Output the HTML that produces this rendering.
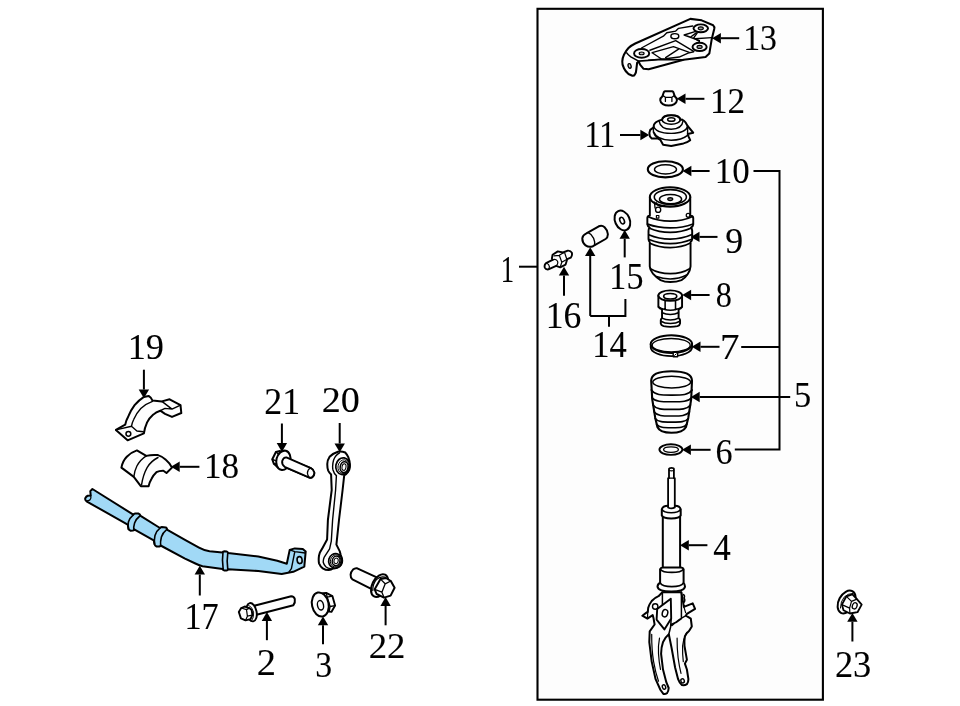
<!DOCTYPE html>
<html><head><meta charset="utf-8"><title>Suspension diagram</title>
<style>
html,body{margin:0;padding:0;background:#fff;}
body{width:960px;height:706px;overflow:hidden;font-family:"Liberation Serif",serif;}
svg{display:block;}
svg text{font-family:"Liberation Serif",serif;fill:#000;stroke:#000;stroke-width:0.25px;}
svg{filter:blur(0.45px);}
</style></head><body>
<svg width="960" height="706" viewBox="0 0 960 706">
<rect x="0" y="0" width="960" height="706" fill="#fff"/>
<rect x="537.5" y="8.8" width="285.4" height="690.9" fill="#fdfdfd" stroke="#000" stroke-width="2.1"/>
<g id="parts" stroke="#000" stroke-width="1.6" fill="none" stroke-linejoin="round" stroke-linecap="round">
<!-- PART 13 : upper bracket -->
<g id="p13" transform="matrix(0.9823 0 0 0.9833 11.98 0.98)">
<path d="M690.6 18.2L702.1 19.7L713.8 24.7Q715.4 26 714.9 28.5L712.4 38.6L709.9 53.5L706.1 57L683.7 59.8L648.2 69.4L643 69L639.6 65L637.9 61.6L636.4 62.9L635.6 69.6Q635.4 73 634.3 74.4Q633.2 76.4 631.6 76L627.6 74.2Q624.3 71.3 623 68.4Q621 64.5 621.3 61.4Q621.5 57.8 623 54.7Q625 50.6 627.6 47.8Q630.5 45 634.5 43.2Z" fill="#fdfdfd" stroke-width="2.1"/>
<path d="M625.8 52.8Q627.4 55 630 56.8L637.9 61.2L660.8 59.5L683.7 59.8"/>
<path d="M640.8 47.8L663.1 35.8L666.6 32.3L675.7 30.6L678.6 27.8L693 25.4M697.5 32.6L694 37.5L699.8 41M694 51.6L688.3 53L679.2 57L665.4 58.7L648 60.2" stroke-width="1.4"/>
<path d="M649.4 50.1L675.7 40.4L694 51.2M651.7 52.6L673.4 46.4L689.5 52.2M651.7 52.6L660.8 58.7M665.4 57.6L678.6 49" stroke-width="1.4"/>
<path d="M684.3 34.6L695.2 31.2M684.3 34.6L690.6 36.9L696.6 32.4M684.3 34.6L699.8 40.4M695.2 38.4L712.4 37.3" stroke-width="1.4"/>
<ellipse cx="701.2" cy="27.8" rx="7.4" ry="4" fill="#fdfdfd" stroke-width="2"/>
<ellipse cx="701.2" cy="27.8" rx="2.6" ry="1.5" fill="#999" stroke-width="1.2"/>
<ellipse cx="700" cy="46.7" rx="7.2" ry="4.2" fill="#fdfdfd" stroke-width="2"/>
<ellipse cx="700" cy="46.7" rx="2.6" ry="1.5" fill="#999" stroke-width="1.2"/>
<ellipse cx="641" cy="53.3" rx="7.7" ry="4.5" fill="#fdfdfd" stroke-width="2"/>
<ellipse cx="641" cy="53.3" rx="2.5" ry="1.4" fill="#bbb" stroke-width="1.2"/>
<ellipse cx="674.8" cy="35.8" rx="4" ry="2.6" stroke-width="1.5"/>
<ellipse cx="628.75" cy="66.1" rx="1.5" ry="2.4" transform="rotate(-15 628.75 66.1)" fill="#ccc" stroke-width="1.4"/>
</g>
<!-- PART 12 : nut -->
<g id="p12">
<path d="M665 91.3H672.2Q673 91.4 673.4 92.2L674.8 96.4A8.35 5.5 0 1 1 662.4 96.4L663.8 92.2Q664.2 91.4 665 91.3Z" fill="#fdfdfd" stroke-width="2"/>
<path d="M662.6 95.4L665.4 97.3H671.9L674.6 95.4M665.4 97.3V101.4M671.9 97.8V101.4" stroke-width="1.3"/>
</g>
<!-- PART 11 : mount -->
<g id="p11">
<path d="M662.1 119.7Q662.6 115.2 671.2 115.2Q679.8 115.2 680.3 119.7L682.2 119.6Q684.4 120.6 685.6 122.6L687.6 126L693.2 132.7L687.8 133.9L688.6 136.6L690.2 140.2Q687.4 142.4 683.5 143.4L671.2 146L663.1 144.8L660.3 139.8L658.2 138.6L651.8 138.6L649.9 136.4Q648.6 133.2 650.2 129.9L653.4 127.6Q653.4 124.4 655.6 122.6Q657.2 121.2 659 120.6Z" fill="#fdfdfd" stroke-width="2"/>
<ellipse cx="671.2" cy="119.7" rx="9.1" ry="4.5" stroke-width="1.6"/>
<ellipse cx="671.3" cy="119.5" rx="3.7" ry="1.8" stroke-width="1.5"/>
<path d="M659 120.8Q660.4 129 671.2 129.3Q682 129 683 121.2M653.6 125.6Q655 133.2 671.2 133.4Q686 133.2 687.6 126M653.8 132Q657 140 671.2 140.2Q682 140 687.2 135.6M653.4 127.6V132.4Q654.6 136.6 658.2 138.6M687.6 126V135.6" stroke-width="1.4"/>
</g>
<!-- PART 10 : ring -->
<g id="p10">
<ellipse cx="665.35" cy="169.3" rx="17.55" ry="8.1" fill="#fdfdfd" stroke-width="2.1"/>
<ellipse cx="665.5" cy="169.4" rx="11" ry="4.6" stroke-width="1.4"/>
</g>
<!-- PART 9 : air spring -->
<g id="p9" transform="matrix(0.9620 0 0 0.9857 25.71 2.96)">
<path d="M648.8 196.8V215.6Q646.4 216 646.2 218V224.6Q646.4 226.4 648.6 227.8Q647.4 229 647.4 231V239.6Q647.6 241.4 648.7 242.6V267.2Q649 271 652 274.6Q655.6 278.6 659.9 281.2Q664 283.2 670 283.2Q676.6 283.2 681.7 281.2Q685.6 279 688.2 275Q690.8 271 691.1 267.2V242.6Q692.6 241.4 692.8 239.6V231Q692.6 229 691.6 227.8Q693.8 226.4 693.9 224.6V218Q693.6 216 690.8 215.6V196.8Z" fill="#fdfdfd" stroke-width="2.0"/>
<ellipse cx="669.8" cy="196.8" rx="21" ry="9.8" fill="#fdfdfd" stroke-width="2.1"/>
<ellipse cx="670.1" cy="196.9" rx="16.7" ry="7.5" stroke-width="1.6"/>
<ellipse cx="670.3" cy="199.1" rx="11.5" ry="4.7" stroke-width="1.5"/>
<ellipse cx="670" cy="199" rx="2.6" ry="1.4" fill="#999" stroke-width="1.3"/>
<path d="M653.6 202.2L654.2 208M655.4 202.6Q656 205.6 661 206.6" stroke-width="1.4"/>
<circle cx="657.4" cy="209.8" r="2.7" stroke-width="1.4"/>
<rect x="655.6" y="215.6" width="2.6" height="2.6" stroke-width="1.2"/>
<circle cx="688.6" cy="215.4" r="2" stroke-width="1.3"/>
<path d="M647 217Q657 221.4 670 221.4Q683 221.4 693.2 216.6M646.4 224.4Q657 228.2 670 228.2Q683 228.2 693.7 224.2M648.4 228.6Q658 232.8 670 232.8Q682 232.8 692 228.4M647.6 235.2Q658 239.6 670 239.6Q682 239.6 692.6 235M648 240Q658 244.2 670 244.2Q682 244.2 692.4 239.8M648.9 243.8Q658 248.2 670 248.2Q682 248.2 691 243.6" stroke-width="1.7"/>
<path d="M649.4 269.6Q658 274.6 670 274.6Q682 274.6 690.6 269.4M655.6 277.6Q662 280 670 280Q679 280 687 276" stroke-width="1.6"/>
</g>
<!-- PART 8 : fitting -->
<g id="p8" transform="matrix(0.9630 0 0 0.9650 24.15 10.90)">
<path d="M658.6 295V306.8Q660 308.6 662.4 309.2V318.3Q661.2 319 661.1 320.4V324Q661.4 325.8 664 326.6Q667.4 327.4 671 327.4Q675 327.4 678.4 326.6Q681 325.8 681.1 324V320.4Q681 319 679.6 318.3V309.2Q682 308.6 683.2 306.8V295Z" fill="#fdfdfd" stroke-width="2.0"/>
<ellipse cx="670.9" cy="295" rx="12.3" ry="5.4" fill="#fdfdfd" stroke-width="2.0"/>
<ellipse cx="670.9" cy="295.7" rx="6.8" ry="2.9" stroke-width="1.7"/>
<path d="M665.6 300.4V309.6M676.4 300.4V309.6M658.8 306.8Q664 310.2 671 310.2Q678 310.2 683 306.8M662.6 312.8Q666 314.6 671 314.6Q676 314.6 679.4 312.8M662.4 318.4Q666 320.4 671 320.4Q676 320.4 679.6 318.4M661.2 321.6Q665 324 671 324Q677 324 681 321.6" stroke-width="1.6"/>
</g>
<!-- PART 7 : clamp -->
<g id="p7">
<path d="M650.7 344.1V347.3A20.7 8.8 0 0 0 692.1 347.3V344.1" fill="none" stroke-width="1.8"/>
<ellipse cx="671.4" cy="344.1" rx="20.7" ry="8.8" fill="#fdfdfd" stroke-width="2"/>
<ellipse cx="671.2" cy="345.2" rx="19" ry="6.7" stroke-width="1.3"/>
<rect x="673.2" y="352.4" width="4.4" height="4.4" fill="#fdfdfd" stroke-width="1.4"/>
<path d="M674.6 355.4L676.2 353.8" stroke-width="1"/>
</g>
<!-- PART 5 : boot -->
<g id="p5">
<path d="M651.2 380.6Q651.4 371.2 671.6 371.2Q691.8 371.2 692 380.6L691.2 399L688.3 417.7L686 427Q683 432.8 671.4 432.8Q660 432.8 657.4 427L655.2 417.7L652.2 399Z" fill="#fdfdfd" stroke-width="2.1"/>
<ellipse cx="671.7" cy="382.1" rx="18.9" ry="5.9" stroke-width="1.5"/>
<path d="M651.3 390C655.0 395.2 661.5 395.1 671.8 395.1C682.0 395.1 688.5 395.2 692.2 390M651.8 397.4C655.4 401.9 661.8 401.8 671.8 401.8C681.7 401.8 688.1 401.9 691.7 397.4M652.9 405C656.3 409.5 662.3 409.4 671.7 409.4C681.1 409.4 687.1 409.5 690.5 405M654 411.8C657.2 416.1 662.9 416.0 671.8 416C680.6 416.0 686.3 416.1 689.5 411.8M655.2 418.4C658.2 422.2 663.5 422.1 671.8 422.1C680.0 422.1 685.3 422.2 688.3 418.4M656.6 424.2C659.3 427.8 664.2 427.7 671.7 427.7C679.2 427.7 684.1 427.8 686.8 424.2" stroke-width="1.6"/>
</g>
<!-- PART 6 : ring -->
<g id="p6">
<ellipse cx="670.9" cy="449.55" rx="11.5" ry="5.35" fill="#fdfdfd" stroke-width="1.9"/>
<ellipse cx="671" cy="449.6" rx="7.4" ry="2.8" stroke-width="1.3"/>
</g>
<!-- PART 4 : strut -->
<g id="p4">
<!-- fork -->
<path d="M662.4 592.3L658.5 596.2Q654.4 598 651.7 601Q649.4 604 648.2 607.9L647.8 611.8L646.8 612.4L642.3 615.7L647.4 618.6L652.7 615.1L653.6 618.6L654.6 624.5L649.7 631.3L649.3 642.1L651.7 661.6L655.6 679.2L660.5 690L663.4 693.9Q665.6 694.2 666.9 693.3Q668.6 691 668.7 688L666.3 682.2L663 669.5L661.1 653.8Q661.2 647 663 642.1Q665 637.4 668.8 634.3L671.6 648L675.1 667.5L678.1 679.2Q679.6 683.4 682 685.1Q684.8 685.6 686.9 684.1Q688.4 682 688.4 679.2L686.9 669.5L684.9 663.6L686.9 659.7L684.5 646Q684.2 640.6 684.9 636.2Q686.6 633 689.2 630.8L691.8 626.5L690.8 618.6L685.9 615.7L686.9 613.8L695.1 608.9L692.7 603.4L683.9 606.9L681.4 592.3Z" fill="#fdfdfd" stroke-width="2"/>
<path d="M662.4 592.3V612M681.4 592.3V618.6Q677 622.6 671.2 624.5M671.2 618.6L670.6 627L668.8 634.3M685.9 615.7Q678 619.6 672 625.4M683.6 594.6Q685.2 596 684 598Q685.6 600 684 602.4" stroke-width="1.5"/>
<path d="M670.8 598.7L657.2 608.9L656.6 619.6L664.4 629.4L671.2 618.6Z" fill="#fdfdfd" stroke-width="1.9"/>
<ellipse cx="665" cy="613.2" rx="2.7" ry="3.7" transform="rotate(15 665 613.2)" stroke-width="1.5"/>
<circle cx="655.2" cy="606.5" r="2.7" stroke-width="1.4"/>
<path d="M651.7 634.3Q651.6 650 653.6 661.6Q655.6 673 658.5 681.2M659.5 638.2Q658 646 658.5 653.8Q659 662 660.5 669.5M686.9 632.3Q683 639 682.6 646Q682.4 654 683.3 661.6M677.1 638.2Q677 648 678.1 657.7Q679.2 666 681 673.4M683.9 606.9L685.6 612.6M647.4 618.6L647.8 611.8" stroke-width="1.2"/>
<ellipse cx="664" cy="687" rx="1.6" ry="2.3" transform="rotate(-20 664 687)" stroke-width="1.4"/>
<ellipse cx="682.6" cy="680.8" rx="1.7" ry="2.1" transform="rotate(-20 682.6 680.8)" stroke-width="1.4"/>
<!-- body -->
<path d="M662.8 515V568H680.1V515Z" fill="#fdfdfd" stroke-width="2"/>
<!-- cap -->
<path d="M661.8 509.2V515.4Q662.8 518.4 671.2 518.4Q679.6 518.4 680.7 515.4V509.2Q679.8 505.7 675 505.7H668Q662.8 505.7 661.8 509.2Z" fill="#fdfdfd" stroke-width="2"/>
<path d="M662 509.4Q663.6 512.8 671.2 512.8Q678.8 512.8 680.5 509.4" stroke-width="1.5"/>
<!-- rod -->
<path d="M669 478.1V468.8Q669.2 467.8 671.5 467.8Q673.8 467.8 673.9 468.8V478.1H674.8V507.4Q671.4 509.4 668.1 507.4V478.1Z" fill="#fdfdfd" stroke-width="1.8"/>
<path d="M669 478.1H673.9M669.2 470.2Q671.5 471.4 673.8 470.2" stroke-width="1.2"/>
<!-- lower collar and flange -->
<path d="M657.5 586.6Q658 591.4 671.2 591.4Q684.4 591.4 685 586.6Q684.6 583.6 683.6 583V569.2Q683.2 567.6 681 567.4H662.8Q660.6 567.6 660.1 569.2V583Q657.8 583.6 657.5 586.6Z" fill="#fdfdfd" stroke-width="2"/>
<path d="M660.3 569.2Q662.4 572.4 671.8 572.4Q681.2 572.4 683.4 569.2M660.2 583Q662.4 586.6 671.8 586.6Q681.2 586.6 683.5 583" stroke-width="1.6"/>
</g>
<!-- PART 15 : washer -->
<g id="p15">
<ellipse cx="622.4" cy="220.5" rx="7.3" ry="10.3" transform="rotate(-24 622.4 220.5)" fill="#fdfdfd" stroke-width="2.0"/>
<ellipse cx="622.1" cy="220.6" rx="2.1" ry="3.5" transform="rotate(-24 622.1 220.6)" stroke-width="1.6"/>
</g>
<!-- PART 14 : sleeve -->
<g id="p14">
<path d="M586.4 233.4L598.8 226.3Q602 225 604.6 227.2Q607.6 230.2 607.9 234.2Q607.8 237.6 605.6 239L593 246.2Q589 247.8 585.6 245.4Q582.2 242.4 582.3 238.4Q582.6 235.2 586.4 233.4Z" fill="#fdfdfd" stroke-width="2"/>
<path d="M588.2 232.6Q592 234.2 593.6 238.2Q595.2 242.2 594.6 245" stroke-width="1.4"/>
</g>
<!-- PART 16 : fitting -->
<g id="p16">
<path d="M546 263.2L552.6 259.9L551.9 258.4L552.6 254.8L557.8 251.4L563 252.5L567.8 250.6Q570.6 250.4 571.8 252.6Q572.6 255.4 570.8 257.6L567.2 259.2L565.6 264.6L560.2 267.4L556.2 265.8L548.4 269.4Q545.8 269.8 544.8 267.6Q544 264.8 546 263.2Z" fill="#fdfdfd" stroke-width="1.9"/>
<path d="M546.4 263Q549.2 264.2 549.4 266.6Q549.4 268.4 548.6 269.2M552.6 259.9Q555.6 258.6 557.4 261Q558.6 263.6 556.2 265.8M554 255.8L559.3 255.3L563.4 252.8M559.3 255.3L561.8 262.2L560.2 267.2M561.8 262.2L567 259.3M564.8 253.2L566.8 259.2" stroke-width="1.2"/>
</g>
<!-- PART 19 : bracket -->
<g id="p19">
<path d="M143.9 396.9L148.6 395.9Q151.4 397.6 152.5 400.6L161.9 401.4L169.6 399.3L180.5 405.2L181.3 413L172 416.9L165 413.8L160.3 410.7Q156 412 153.3 414.6Q149.4 418 147.1 422.4Q144.6 428 143.9 433.3L127.6 440.3L115.9 429.9L125.2 424.7Q126.2 420 128.4 416.2Q131 410 134.6 405.2Q138.6 400.4 143.9 396.9Z" fill="#fdfdfd" stroke-width="2.0"/>
<path d="M152.5 401.4Q145.4 404 140.8 408.4Q136.4 413 133.8 419.3Q132 423 131.5 426.3L136.9 431L143.2 431.7M115.9 429.9L131.5 426.3M161.9 401.4L172 409.1L180.5 405.2M172 409.1L165 408.4L160.3 410.7" stroke-width="1.4"/>
<circle cx="128.4" cy="433.8" r="2.4" stroke-width="1.5"/>
</g>
<!-- PART 18 : bushing -->
<g id="p18">
<path d="M121.4 467.6Q122.6 461 126.8 456.7Q131 452.4 136.9 450.4L146.3 455.9Q152 454.4 158 455.1Q162.6 456.6 165.8 459.8Q169.6 463 172 467.6L166.5 473L163.4 470.7Q159.4 470.6 156.4 472.2Q153.4 475 151.7 478.5Q149.6 482 148.6 486.2L140.8 486.2L133.8 476.9Z" fill="#fdfdfd" stroke-width="2.0"/>
<path d="M146.3 455.9Q140.4 459.6 136.9 466Q134.4 471 133.8 476.9M158 457.5Q151 461 147.1 467.6Q143 475 141.6 484.7" stroke-width="1.4"/>
</g>
<!-- PART 17 : stabilizer bar (highlighted) -->
<g id="p17">
<path d="M92.4 489L133.3 514.6Q134 513.6 135.2 513.4L138.6 513.6Q140 514.2 140.6 515.8L160 528Q160.6 527.2 161.8 527L165.8 527.4Q167 528.2 167.4 529.9L185 539.9L199 547.6Q204 550.4 209.6 551.2L222.4 552.4Q223 551.2 224.4 551.2L226.6 551.4Q227.8 551.8 228 553L258.3 556.5L277.3 560.8L286.8 563.8L289.7 549.9L294.8 548.4L302.8 548.9L305.7 551.4L304.3 566.7L293.3 571.8L281.7 574L258.3 571L228 569.2Q227.6 570.4 226.4 570.6L224.4 570.6Q223 570.4 222.6 569L202.5 566.2Q198.6 565.2 195.4 563.5L185 558.6L160.6 545.5Q160.4 546.4 159.4 546.6L156.6 546.5Q155 545.8 154.5 544.2L153.7 540.4L134.2 529.3Q134 530.4 133 530.6L130.7 530.7Q129.2 530.2 128.6 529L127.7 524.6L86.5 501.3Q84.6 499.6 85.4 498Q86.2 496.4 87.7 495.8L90.7 495.4L90.3 491.1Z" fill="#a1d9f6" stroke-width="2.0"/>
<path d="M90.7 495.4Q91.4 498 90 499.8Q89 500.8 87.6 500.6" stroke-width="1.3"/>
<path d="M133.3 514.9Q129.6 518 128.4 522Q127.6 526 128.4 529.4M139.8 516Q136 519 134.6 523Q133.4 527 133.8 530.2" stroke-width="1.6"/>
<path d="M160 528.2Q156.4 531 155 535.4Q154 540 154.6 544.4M166.6 529.6Q162.8 532.6 161.4 537Q160.2 541.6 160.6 545.6" stroke-width="1.6"/>
<path d="M223 552.2Q221.8 560 223.2 569.6M227.8 552.6Q226.6 560 227.8 569.6" stroke-width="1.6"/>
<path d="M289.7 549.9L294.8 551.6L305.2 553M294.8 551.6L291.4 568.6L289 571.8" stroke-width="1.4"/>
<ellipse cx="299.6" cy="560.1" rx="2.5" ry="3.5" transform="rotate(-8 299.6 560.1)" fill="#c4e6f8" stroke-width="1.6"/>
</g>
<!-- PART 20 : link -->
<g id="p20">
<path d="M337.9 451.7Q333 453.2 329.6 456.7Q327.2 460.4 327.3 464Q327.2 468 328.2 470.6Q329.4 473 331.1 474.6L331.7 490L327.9 520L327.1 539.5L322 548.9Q319.4 552.6 319 555.7Q318.4 560 319 563.3Q320.4 566.6 322.8 568.4Q325.6 570.2 328.8 570.1Q331.2 569.8 333 568.4Q338 568.8 341 565Q343.6 561 340.7 554.8L339.8 551.4L336.4 544.6L339 520L342.6 490L344.2 475.4Q346.4 474.4 347.8 472.3Q350.2 469 349.9 465Q349.8 461 348.3 457.2Q347 454.4 345.2 452.5Q341.6 451 337.9 451.7Z" fill="#fdfdfd" stroke-width="2.0"/>
<path d="M339.6 452.8Q335.4 455 333.6 460Q332 465.6 333 470Q334 473.6 336.4 475.6L335.6 490L332.6 520L331.3 541.2L329.6 548.9L324.1 557.4Q323 560 323.3 562.5Q324 565 325.8 566.7Q328 568.4 330.4 568.6" stroke-width="1.4"/>
<ellipse cx="342.8" cy="466.2" rx="7" ry="8.4" transform="rotate(10 342.8 466.2)" fill="#fdfdfd" stroke-width="1.7"/>
<ellipse cx="343.4" cy="466.7" rx="5.4" ry="6.9" transform="rotate(10 343.4 466.7)" stroke-width="0.9"/><ellipse cx="344.1" cy="467.1" rx="3.9" ry="5.4" transform="rotate(10 344.1 467.1)" stroke-width="1.5"/>
<ellipse cx="344" cy="467.1" rx="2" ry="3.3" transform="rotate(10 344 467.1)" stroke-width="1"/>
<ellipse cx="335.3" cy="560.8" rx="6.6" ry="7.3" transform="rotate(15 335.3 560.8)" fill="#fdfdfd" stroke-width="1.7"/>
<ellipse cx="335.7" cy="560.9" rx="5.3" ry="6.1" transform="rotate(15 335.7 560.9)" stroke-width="0.9"/><ellipse cx="336.1" cy="560.9" rx="3.8" ry="4.8" transform="rotate(15 336.1 560.9)" stroke-width="1.5"/>
<ellipse cx="336.1" cy="560.9" rx="2.1" ry="2.8" transform="rotate(15 336.1 560.9)" stroke-width="1"/>
</g>
<!-- PART 21 : bolt -->
<g id="p21">
<path d="M275.9 452L272.3 459.3L273.9 463.8L278 467.6L282 466L280 451Z" fill="#fdfdfd" stroke-width="2"/>
<path d="M275.9 452L278.4 454M272.3 459.3L275.6 460.6M273.9 463.8L276.4 463.6" stroke-width="1.3"/>
<path d="M284.3 457.7L310.8 468.1Q313.6 469.4 314.3 472.6Q314.4 476 311.6 477.6Q309.6 478 308.2 477L282.7 466Z" fill="#fdfdfd" stroke-width="2"/>
<ellipse cx="283.4" cy="460.3" rx="7" ry="9.8" transform="rotate(14 283.4 460.3)" fill="#fdfdfd" stroke-width="2.0"/>
<path d="M286.4 457.4L310.8 468.1Q313.6 469.4 314.3 472.6Q314.4 476 311.6 477.6Q309.6 478 308.2 477L284.6 466.8Q281.6 464.6 282.2 461Q283.4 457.2 286.4 457.4Z" fill="#fdfdfd" stroke-width="1.9"/>
<path d="M310.4 468Q307.6 469.4 307.4 473Q307.6 476 309.4 477.4" stroke-width="1.3"/>
</g>
<!-- PART 2 : bolt -->
<g id="p2">
<path d="M254.2 605.7L291.2 596.2Q294 596.4 294.8 599Q295.4 602.6 293.4 605.2L256.6 614.8Z" fill="#fdfdfd" stroke-width="2"/>
<ellipse cx="251.5" cy="612.2" rx="5.1" ry="9.3" transform="rotate(-11 251.5 612.2)" fill="#fdfdfd" stroke-width="1.9"/>
<path d="M248 604.8Q252.4 606.8 253.6 612Q254.2 617 252 620.2" stroke-width="0.9"/>
<path d="M238.8 611.9L241.2 608L244.7 606.5L249.3 608.1L251.7 610L252.4 615L250.5 619.2L245.5 620.4L240.9 618.4Z" fill="#fdfdfd" stroke-width="1.9"/>
<path d="M241.2 608L246.5 609.6L247.4 616.2L245.5 620.4M246.5 609.6L249.3 608.1M247.4 616.2L252.4 615" stroke-width="1.2"/>
</g>
<!-- PART 3 : flange nut -->
<g id="p3">
<path d="M322.9 593.3L326.2 592.9L332.4 596.1L335.1 605.6L331.4 611.9L327 611.4L322 606Z" fill="#fdfdfd" stroke-width="1.9"/>
<path d="M326.2 592.9L327.2 597.2L332.4 596.1M327.2 597.2L330.1 606.5L335.1 605.6M330.1 606.5L329.2 611.4" stroke-width="1.3"/>
<ellipse cx="320.3" cy="604.5" rx="8.3" ry="12.2" transform="rotate(-12 320.3 604.5)" fill="#fdfdfd" stroke-width="2"/>
<ellipse cx="320.5" cy="605.3" rx="3" ry="4.8" transform="rotate(-12 320.5 605.3)" stroke-width="1.4"/>
</g>
<!-- PART 22 : bolt -->
<g id="p22">
<path d="M356.7 568.2L376.8 577.4L371.2 588.8L352.4 579.4Q350.4 577.4 350.6 574.6Q351 571.6 353 569.6Q354.8 568 356.7 568.2Z" fill="#fdfdfd" stroke-width="2.0"/>
<ellipse cx="379.6" cy="585.6" rx="7.4" ry="12.2" transform="rotate(27 379.6 585.6)" fill="#fdfdfd" stroke-width="2.0"/>
<path d="M372.8 590.6Q372.6 584 376.4 579.6Q380 576 385 577.2" stroke-width="1.3"/>
<path d="M380.5 579.1L386 578L390.8 581L394.6 587.8L390.6 595.6L384 597.6L376.6 594L374.7 589.3Z" fill="#fdfdfd" stroke-width="2"/>
<path d="M380.5 579.1L385.2 583.8L390.8 581M385.2 583.8L381.9 592.2L384 597.6M374.7 589.3L381.9 592.2" stroke-width="1.3"/>
</g>
<!-- PART 23 : flange nut -->
<g id="p23">
<ellipse cx="846.6" cy="602" rx="7.9" ry="12.2" transform="rotate(28 846.6 602)" fill="#fdfdfd" stroke-width="2"/>
<path d="M840.4 608.1Q840.6 601 844.1 597.2Q847.6 593.4 853 593.4" stroke-width="1"/>
<path d="M846.4 596.3L852.4 594.3L856.9 599.1L861.7 604.6L857.5 612.2L849.9 613.5L843.5 610.3L841.9 604.6Z" fill="#fdfdfd" stroke-width="1.8"/>
<path d="M846.4 596.3L851.5 601.4L856.9 599.1M851.5 601.4L849.6 608.1L849.9 613.5M841.9 604.6L849.6 608.1" stroke-width="1.2"/>
<ellipse cx="854.7" cy="605.8" rx="2.3" ry="3.2" transform="rotate(22 854.7 605.8)" stroke-width="1.3"/>
</g>

</g>
<g id="leaders">
<path d="M739.2 38.2L720.9 38.2" stroke="#000" stroke-width="2.0" fill="none"/><path d="M712.1 38.2L720.9 33.0L720.9 43.4Z" fill="#000"/>
<path d="M704.4 98.8L685.5 98.8" stroke="#000" stroke-width="2.0" fill="none"/><path d="M676.7 98.8L685.5 93.6L685.5 104.0Z" fill="#000"/>
<path d="M620.0 135.0L640.4 135.0" stroke="#000" stroke-width="2.0" fill="none"/><path d="M649.2 135.0L640.4 140.2L640.4 129.8Z" fill="#000"/>
<path d="M709.6 171.0L691.4 171.0" stroke="#000" stroke-width="2.0" fill="none"/><path d="M682.6 171.0L691.4 165.8L691.4 176.2Z" fill="#000"/>
<path d="M753.5 171H779.5V449.6H734.8" stroke="#000" stroke-width="2.0" fill="none"/>
<path d="M741.2 346.9H779.5" stroke="#000" stroke-width="2.0" fill="none"/>
<path d="M717.5 236.9L699.5 236.9" stroke="#000" stroke-width="2.0" fill="none"/><path d="M690.7 236.9L699.5 231.7L699.5 242.1Z" fill="#000"/>
<path d="M709.6 295.0L691.1 295.0" stroke="#000" stroke-width="2.0" fill="none"/><path d="M682.3 295.0L691.1 289.8L691.1 300.2Z" fill="#000"/>
<path d="M719.5 346.8L700.5 346.8" stroke="#000" stroke-width="2.0" fill="none"/><path d="M691.7 346.8L700.5 341.6L700.5 352.0Z" fill="#000"/>
<path d="M790.2 397.0L699.7 397.0" stroke="#000" stroke-width="2.0" fill="none"/><path d="M690.9 397.0L699.7 391.8L699.7 402.2Z" fill="#000"/>
<path d="M710.6 449.8L690.9 449.8" stroke="#000" stroke-width="2.0" fill="none"/><path d="M682.1 449.8L690.9 444.6L690.9 455.0Z" fill="#000"/>
<path d="M707.4 545.2L688.8 545.2" stroke="#000" stroke-width="2.0" fill="none"/><path d="M680.0 545.2L688.8 540.0L688.8 550.4Z" fill="#000"/>
<path d="M852.4 641.5L852.4 621.7" stroke="#000" stroke-width="2.0" fill="none"/><path d="M852.4 612.9L857.6 621.7L847.2 621.7Z" fill="#000"/>
<path d="M519 266.7H537.6" stroke="#000" stroke-width="2.0" fill="none"/>
<path d="M564.0 295.7L564.0 275.5" stroke="#000" stroke-width="2.0" fill="none"/><path d="M564.0 266.7L569.2 275.5L558.8 275.5Z" fill="#000"/>
<path d="M590.2 315.9L590.2 256.0" stroke="#000" stroke-width="2.0" fill="none"/><path d="M590.2 247.2L595.4 256.0L585.0 256.0Z" fill="#000"/>
<path d="M590.2 315.9H625.4V298.9" stroke="#000" stroke-width="2.0" fill="none"/>
<path d="M609 315.9V326.8" stroke="#000" stroke-width="2.0" fill="none"/>
<path d="M624.7 257.4L624.7 238.8" stroke="#000" stroke-width="2.0" fill="none"/><path d="M624.7 230.0L629.9 238.8L619.5 238.8Z" fill="#000"/>
<path d="M143.9 369.7L143.9 389.5" stroke="#000" stroke-width="2.0" fill="none"/><path d="M143.9 398.3L138.7 389.5L149.1 389.5Z" fill="#000"/>
<path d="M199.4 466.8L179.7 466.8" stroke="#000" stroke-width="2.0" fill="none"/><path d="M170.9 466.8L179.7 461.6L179.7 472.0Z" fill="#000"/>
<path d="M199.8 595.5L199.8 574.5" stroke="#000" stroke-width="2.0" fill="none"/><path d="M199.8 565.7L205.0 574.5L194.6 574.5Z" fill="#000"/>
<path d="M281.9 423.5L281.9 443.1" stroke="#000" stroke-width="2.0" fill="none"/><path d="M281.9 451.9L276.7 443.1L287.1 443.1Z" fill="#000"/>
<path d="M339.7 423.0L339.7 443.5" stroke="#000" stroke-width="2.0" fill="none"/><path d="M339.7 452.3L334.5 443.5L344.9 443.5Z" fill="#000"/>
<path d="M266.9 640.2L266.9 620.9" stroke="#000" stroke-width="2.0" fill="none"/><path d="M266.9 612.1L272.1 620.9L261.7 620.9Z" fill="#000"/>
<path d="M323.0 644.3L323.0 625.3" stroke="#000" stroke-width="2.0" fill="none"/><path d="M323.0 616.5L328.2 625.3L317.8 625.3Z" fill="#000"/>
<path d="M385.6 625.3L385.6 605.9" stroke="#000" stroke-width="2.0" fill="none"/><path d="M385.6 597.1L390.8 605.9L380.4 605.9Z" fill="#000"/>
</g>
<g id="labels">
<text transform="matrix(0.3381 0 0 0.3613 743.19 50.29)" font-size="100" x="0" y="0">13</text>
<text transform="matrix(0.3510 0 0 0.3638 709.98 112.75)" font-size="100" x="0" y="0">12</text>
<text transform="matrix(0.3209 0 0 0.3712 584.44 147.35)" font-size="100" x="0" y="0">11</text>
<text transform="matrix(0.3491 0 0 0.3600 714.80 182.79)" font-size="100" x="0" y="0">10</text>
<text transform="matrix(0.3579 0 0 0.3539 725.19 252.80)" font-size="100" x="0" y="0">9</text>
<text transform="matrix(0.3224 0 0 0.3600 715.74 307.04)" font-size="100" x="0" y="0">8</text>
<text transform="matrix(0.3901 0 0 0.3679 720.01 359.45)" font-size="100" x="0" y="0">7</text>
<text transform="matrix(0.3429 0 0 0.3654 793.98 407.03)" font-size="100" x="0" y="0">5</text>
<text transform="matrix(0.3415 0 0 0.3643 715.50 464.49)" font-size="100" x="0" y="0">6</text>
<text transform="matrix(0.3505 0 0 0.3772 713.15 559.75)" font-size="100" x="0" y="0">4</text>
<text transform="matrix(0.3639 0 0 0.3717 834.91 676.98)" font-size="100" x="0" y="0">23</text>
<text transform="matrix(0.2667 0 0 0.3773 500.82 281.75)" font-size="100" x="0" y="0">1</text>
<text transform="matrix(0.3569 0 0 0.3703 545.73 328.28)" font-size="100" x="0" y="0">16</text>
<text transform="matrix(0.3404 0 0 0.3687 609.37 289.08)" font-size="100" x="0" y="0">15</text>
<text transform="matrix(0.3454 0 0 0.3742 592.13 357.45)" font-size="100" x="0" y="0">14</text>
<text transform="matrix(0.3633 0 0 0.3569 127.67 358.79)" font-size="100" x="0" y="0">19</text>
<text transform="matrix(0.3509 0 0 0.3570 204.08 477.99)" font-size="100" x="0" y="0">18</text>
<text transform="matrix(0.3422 0 0 0.3758 184.46 628.75)" font-size="100" x="0" y="0">17</text>
<text transform="matrix(0.3575 0 0 0.3698 264.34 413.65)" font-size="100" x="0" y="0">21</text>
<text transform="matrix(0.3815 0 0 0.3659 321.63 412.48)" font-size="100" x="0" y="0">20</text>
<text transform="matrix(0.3850 0 0 0.3728 256.72 674.75)" font-size="100" x="0" y="0">2</text>
<text transform="matrix(0.3370 0 0 0.3584 315.35 677.09)" font-size="100" x="0" y="0">3</text>
<text transform="matrix(0.3678 0 0 0.3653 368.70 657.95)" font-size="100" x="0" y="0">22</text>
</g>
</svg>
</body></html>
